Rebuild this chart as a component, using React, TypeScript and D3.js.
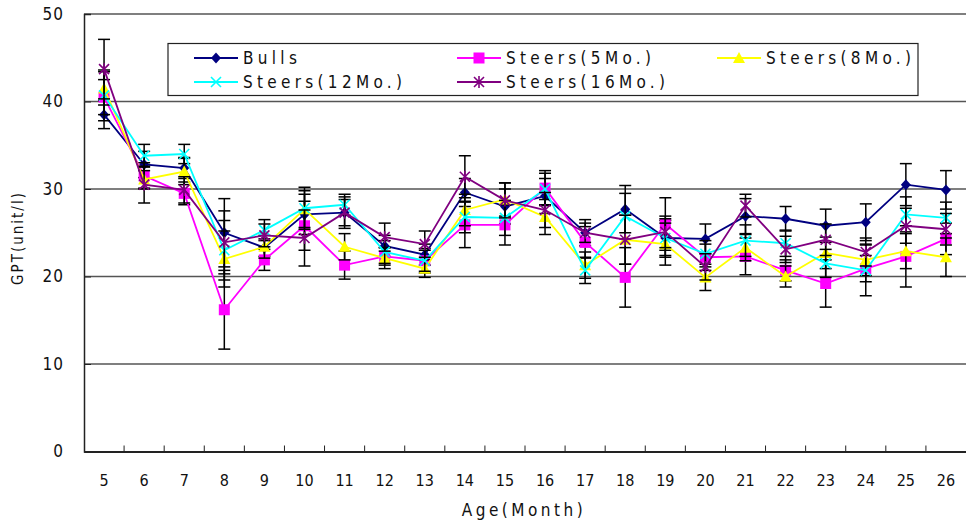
import { useEffect, useRef } from "react";
import * as d3 from "d3";

const months = [5, 6, 7, 8, 9, 10, 11, 12, 13, 14, 15, 16, 17, 18, 19, 20, 21, 22, 23, 24, 25, 26];
const yTicks = [0, 10, 20, 30, 40, 50];

const bulls = [38.5, 32.8, 32.4, 25.0, 23.3, 27.1, 27.3, 23.5, 22.5, 29.6, 28.0, 29.2, 25.0, 27.7, 24.4, 24.3, 26.9, 26.6, 25.8, 26.2, 30.5, 29.9];
const steers5 = [40.5, 31.5, 29.5, 16.2, 21.9, 25.8, 21.3, 22.3, 21.8, 25.9, 25.9, 30.1, 23.9, 19.9, 26.0, 22.2, 22.3, 20.7, 19.2, 20.9, 22.3, 24.3];
const steers8 = [41.5, 31.1, 32.0, 22.0, 23.4, 27.7, 23.4, 22.1, 20.9, 27.6, 28.8, 26.8, 21.3, 24.2, 23.7, 19.9, 23.3, 20.0, 22.7, 21.9, 22.9, 22.2];
const steers12 = [40.7, 33.8, 34.0, 23.0, 25.3, 27.8, 28.2, 22.8, 21.8, 26.8, 26.7, 30.0, 20.7, 26.9, 24.4, 22.6, 24.1, 23.8, 21.5, 20.7, 27.1, 26.7];
const steers16 = [43.7, 30.5, 29.9, 23.9, 24.7, 24.4, 27.3, 24.5, 23.7, 31.4, 28.7, 27.6, 25.0, 24.2, 25.1, 21.1, 28.1, 23.1, 24.2, 22.8, 25.8, 25.4];

const bullsSd = [1.6, 1.5, 1.2, 3.9, 1.0, 2.3, 1.5, 1.2, 1.2, 1.6, 2.0, 2.0, 1.5, 2.7, 2.0, 1.7, 2.0, 1.4, 1.9, 2.1, 2.4, 2.2];
const steers5Sd = [2.0, 1.5, 1.3, 4.5, 1.2, 2.8, 1.6, 1.0, 1.4, 2.6, 2.3, 2.0, 1.8, 3.4, 3.0, 1.5, 2.1, 1.2, 2.7, 1.5, 3.5, 1.8];
const steers8Sd = [1.9, 1.0, 1.5, 3.2, 1.3, 2.1, 1.5, 1.2, 1.0, 1.8, 1.9, 2.0, 1.5, 2.8, 2.4, 1.5, 1.5, 1.2, 1.8, 1.8, 2.0, 2.2];
const steers12Sd = [2.9, 1.3, 1.1, 3.4, 1.2, 2.4, 1.2, 1.3, 1.2, 1.8, 2.0, 1.8, 1.5, 2.6, 2.2, 1.5, 1.8, 1.5, 1.6, 2.9, 2.0, 1.8];
const steers16Sd = [3.4, 2.1, 1.5, 3.6, 1.3, 3.2, 1.8, 1.6, 1.5, 2.4, 2.0, 2.0, 1.1, 2.8, 1.8, 1.5, 1.3, 1.5, 1.8, 1.6, 2.0, 1.8];

const seriesNames = ["Bulls", "Steers(5Mo.)", "Steers(8Mo.)", "Steers(12Mo.)", "Steers(16Mo.)"];
const seriesColors = ["#000080", "#ff00ff", "#ffff00", "#00ffff", "#800080"];
const seriesMarkers = ["diamond", "square", "triangle", "cross", "star"];

const FONT = "'Liberation Sans Narrow', 'DejaVu Sans Condensed', 'Arial Narrow', sans-serif";

function drawMarker(g: any, type: string, x: number, y: number, color: string) {
  if (type === "diamond") {
    g.append("path").attr("d", `M${x},${y - 5.5}L${x + 5},${y}L${x},${y + 5.5}L${x - 5},${y}Z`).attr("fill", color);
  } else if (type === "square") {
    g.append("rect").attr("x", x - 5.5).attr("y", y - 5.5).attr("width", 11).attr("height", 11).attr("fill", color);
  } else if (type === "triangle") {
    g.append("path").attr("d", `M${x},${y - 6}L${x + 6},${y + 5}L${x - 6},${y + 5}Z`).attr("fill", color);
  } else if (type === "cross") {
    g.append("path").attr("d", `M${x - 5},${y - 5}L${x + 5},${y + 5}M${x - 5},${y + 5}L${x + 5},${y - 5}`)
      .attr("stroke", color).attr("stroke-width", 1.6);
  } else {
    g.append("path").attr("d", `M${x - 5},${y - 5}L${x + 5},${y + 5}M${x - 5},${y + 5}L${x + 5},${y - 5}M${x},${y - 6}L${x},${y + 6}`)
      .attr("stroke", color).attr("stroke-width", 1.6);
  }
}

function App() {
  const chartRef = useRef<SVGSVGElement>(null);

  useEffect(() => {
    const width = 966;
    const height = 520;
    const left = 84;
    const values = [bulls, steers5, steers8, steers12, steers16];
    const sds = [bullsSd, steers5Sd, steers8Sd, steers12Sd, steers16Sd];

    const svg = d3.select(chartRef.current);
    svg.selectAll("*").remove();
    svg.attr("width", width).attr("height", height);
    svg.append("rect").attr("width", width).attr("height", height).attr("fill", "white");

    const xScale = d3.scaleBand<number>().domain(months).range([left, width]).padding(0);
    const yScale = d3.scaleLinear().domain([0, 50]).range([451.5, 14]);
    const cx = (m: number) => (xScale(m) as number) + xScale.bandwidth() / 2;

    // gridlines
    svg.append("g")
      .selectAll("line")
      .data(yTicks.filter((t) => t > 0))
      .enter()
      .append("line")
      .attr("x1", left)
      .attr("x2", width)
      .attr("y1", (d) => yScale(d))
      .attr("y2", (d) => yScale(d))
      .attr("stroke", "#555")
      .attr("stroke-width", 1.3);

    // y axis
    const yAxis = d3.axisLeft(yScale).tickValues(yTicks).tickSize(-7).tickPadding(20).tickFormat((d) => String(d));
    const ya = svg.append("g").attr("transform", `translate(${left},0)`).call(yAxis);
    ya.select(".domain").attr("stroke", "#222").attr("stroke-width", 1.5);
    ya.selectAll("line").attr("stroke", "#222");
    ya.selectAll("text").style("font-family", FONT).style("font-size", "17px").style("letter-spacing", "1px").attr("fill", "#111");

    // x axis
    const xAxis = d3.axisBottom(xScale).tickSize(0).tickPadding(23);
    const xa = svg.append("g").attr("transform", `translate(0,${yScale(0)})`).call(xAxis);
    xa.select(".domain").attr("stroke", "#222").attr("stroke-width", 2);
    xa.selectAll("text").style("font-family", FONT).style("font-size", "16px").attr("fill", "#111");
    svg.append("g")
      .selectAll("line")
      .data(months.slice(1))
      .enter()
      .append("line")
      .attr("x1", (d) => xScale(d) as number)
      .attr("x2", (d) => xScale(d) as number)
      .attr("y1", yScale(0))
      .attr("y2", yScale(0) - 6)
      .attr("stroke", "#222");

    // series: error bars, line, markers
    values.forEach((vals, si) => {
      const g = svg.append("g");
      const sd = sds[si];
      vals.forEach((v, i) => {
        const x = cx(months[i]);
        const y1 = yScale(v + sd[i]);
        const y2 = yScale(v - sd[i]);
        g.append("line").attr("x1", x).attr("x2", x).attr("y1", y1).attr("y2", y2).attr("stroke", "#000").attr("stroke-width", 1.5);
        g.append("line").attr("x1", x - 6).attr("x2", x + 6).attr("y1", y1).attr("y2", y1).attr("stroke", "#000").attr("stroke-width", 1.5);
        g.append("line").attr("x1", x - 6).attr("x2", x + 6).attr("y1", y2).attr("y2", y2).attr("stroke", "#000").attr("stroke-width", 1.5);
      });
      const line = d3.line<number>().x((d, i) => cx(months[i])).y((d) => yScale(d));
      g.append("path").datum(vals).attr("d", line).attr("fill", "none").attr("stroke", seriesColors[si]).attr("stroke-width", 1.8);
      vals.forEach((v, i) => drawMarker(g, seriesMarkers[si], cx(months[i]), yScale(v), seriesColors[si]));
    });

    // legend
    const lg = svg.append("g");
    lg.append("rect").attr("x", 168).attr("y", 43.5).attr("width", 750).attr("height", 52)
      .attr("fill", "white").attr("stroke", "#222").attr("stroke-width", 1.2);
    const legendPos = [
      [194, 58], [457, 58], [717, 58], [194, 82], [457, 82],
    ];
    seriesNames.forEach((name, si) => {
      const [lx, ly] = legendPos[si];
      lg.append("line").attr("x1", lx).attr("x2", lx + 44).attr("y1", ly).attr("y2", ly)
        .attr("stroke", seriesColors[si]).attr("stroke-width", 1.8);
      drawMarker(lg, seriesMarkers[si], lx + 22, ly, seriesColors[si]);
      lg.append("text").attr("x", lx + 49).attr("y", ly).attr("dy", "0.36em")
        .style("font-family", FONT).style("font-size", "17px").style("letter-spacing", "4.3px")
        .attr("fill", "#111").text(name);
    });

    // axis titles
    svg.append("text").attr("x", 524).attr("y", 510).attr("dy", "0.36em").attr("text-anchor", "middle")
      .style("font-family", FONT).style("font-size", "17px").style("letter-spacing", "3.5px").attr("fill", "#111")
      .text("Age(Month)");
    svg.append("text").attr("transform", "translate(18,238) rotate(-90)").attr("dy", "0.36em").attr("text-anchor", "middle")
      .style("font-family", FONT).style("font-size", "15px").style("letter-spacing", "2px").attr("fill", "#111")
      .text("GPT(unit/l)");
  }, []);

  return (
    <div style={{ position: "absolute", left: 0, top: 0 }}>
      <svg ref={chartRef}></svg>
    </div>
  );
}

export default App;
